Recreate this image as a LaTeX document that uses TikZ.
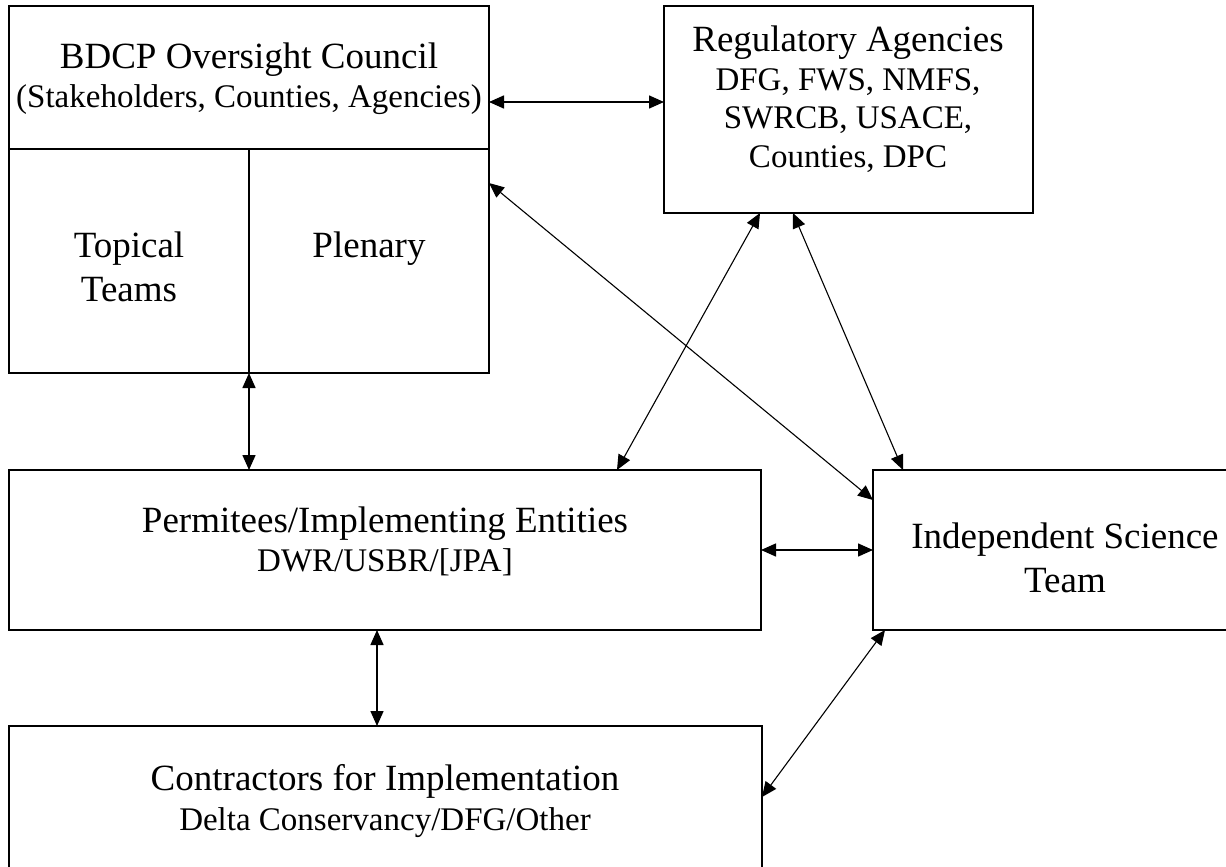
\documentclass[tikz,border=0pt]{standalone}
\usepackage{fontspec}
\setmainfont{Liberation Serif}
\usetikzlibrary{calc,arrows.meta}
\definecolor{ink}{HTML}{000000}
\definecolor{paper}{HTML}{FFFFFF}
\tikzset{
  box/.style={draw=ink, line width=2.3pt, rectangle, inner sep=0pt, outer sep=0pt, anchor=north west},
  div/.style={draw=ink, line width=2.3pt},
  link/.style={draw=ink, line width=1.5pt, {Triangle[length=15pt,width=13pt]}-{Triangle[length=15pt,width=13pt]}},
  slant/.style={link, line width=1.1pt},
  lab/.style={text=ink, anchor=base, font=\fontsize{37}{44}\selectfont},
  labs/.style={text=ink, anchor=base, font=\fontsize{33}{38}\selectfont},
}

\begin{document}
\begin{tikzpicture}[x=1pt, y=-1pt]
  \useasboundingbox[fill=paper] (0,0) rectangle (1226,867);
  \clip (0,0) rectangle (1226,867);
  % boxes
  \node[box, minimum width=480pt, minimum height=367pt] (bdcp) at (9,6) {};
  \node[box, minimum width=369pt, minimum height=207pt] (reg) at (664,6) {};
  \node[box, minimum width=752pt, minimum height=160pt] (perm) at (9,470) {};
  \node[box, minimum width=384pt, minimum height=160pt] (ist) at (873,470) {};
  \node[box, minimum width=753pt, minimum height=160pt] (contr) at (9,726) {};
  % council split
  \draw[div] ($(bdcp.north west)+(0,143)$) -- ($(bdcp.north east)+(0,143)$);
  \draw[div] ($(bdcp.north west)+(240,143)$) -- ($(bdcp.south west)+(240,0)$);
  % labels
  \node[lab] (bdcpT) at (249,68) {BDCP Oversight Council};
  \node[labs] (bdcpS) at (249,107) {(Stakeholders, Counties, Agencies)};
  \node[lab] (topA) at (129,257) {Topical};
  \node[lab] (topB) at (129,301) {Teams};
  \node[lab] (plen) at (369,257) {Plenary};
  \node[lab] (regT) at (848,52) {Regulatory Agencies};
  \node[labs] (regA) at (848,90) {DFG, FWS, NMFS,};
  \node[labs] (regB) at (848,128) {SWRCB, USACE,};
  \node[labs] (regC) at (848,167) {Counties, DPC};
  \node[lab] (permT) at (385,532) {Permitees/Implementing Entities};
  \node[labs] (permS) at (385,571) {DWR/USBR/[JPA]};
  \node[lab] (istA) at (1065,548) {Independent Science};
  \node[lab] (istB) at (1065,592) {Team};
  \node[lab] (conT) at (385,790) {Contractors for Implementation};
  \node[labs] (conS) at (385,830) {Delta Conservancy/DFG/Other};
  % links
  \draw[link] ($(bdcp.north east)+(0,96)$) -- ($(reg.north west)+(0,96)$);
  \draw[link] ($(bdcp.south west)+(240,0)$) -- ($(perm.north west)+(240,0)$);
  \draw[link] (perm.east) -- (ist.west);
  \draw[link] ($(perm.south west)+(368,0)$) -- ($(contr.north west)+(368,0)$);
  \draw[slant] ($(bdcp.north east)+(0,177)$) -- ($(ist.north west)+(0,30)$);
  \draw[slant] ($(reg.south west)+(96,0)$) -- ($(perm.north west)+(608,0)$);
  \draw[slant] ($(reg.south west)+(129,0)$) -- ($(ist.north west)+(30,0)$);
  \draw[slant] ($(contr.north east)+(0,71)$) -- ($(ist.south west)+(12,0)$);
\end{tikzpicture}
\end{document}
